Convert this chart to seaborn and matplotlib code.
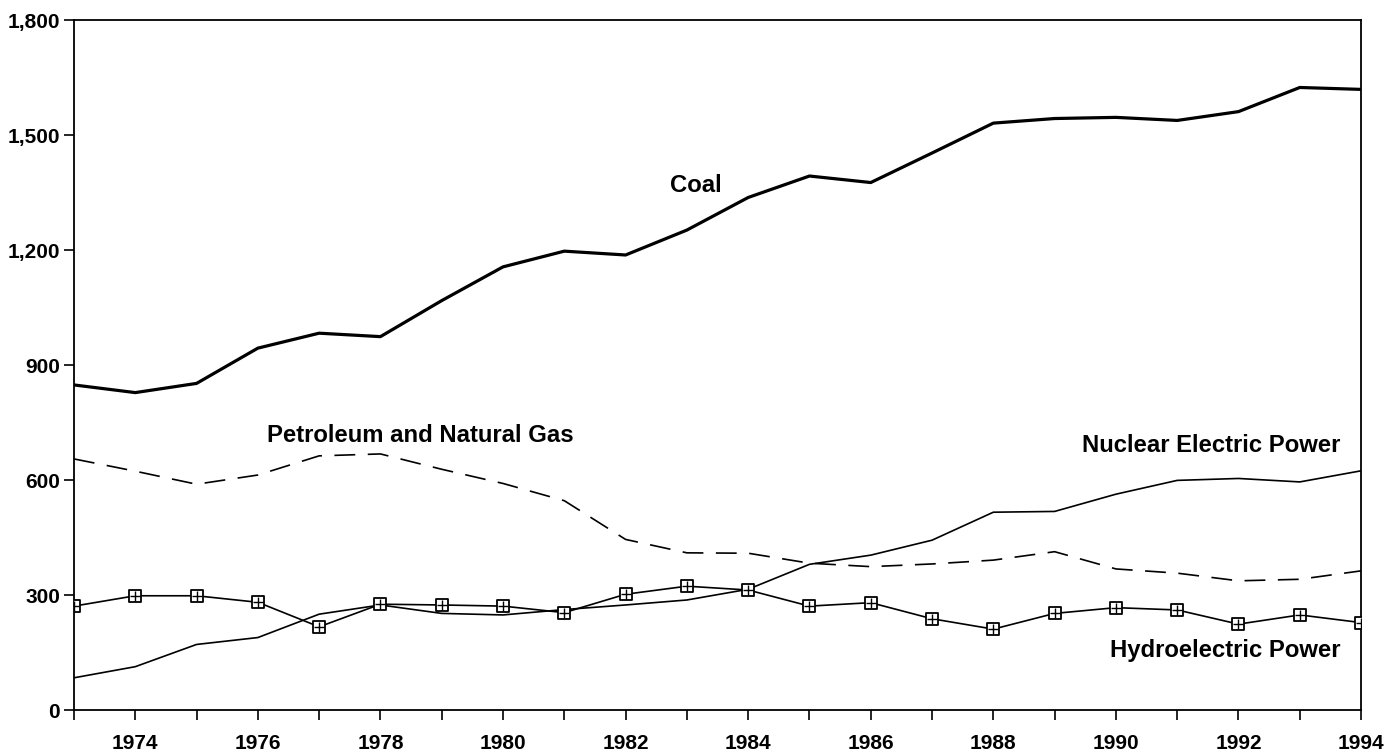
import matplotlib
matplotlib.use("Agg")
import matplotlib.pyplot as plt
import matplotlib.ticker as mticker
import numpy as np
import pandas as pd
import seaborn as sns

# Net electricity generation by energy source (billion kWh), 1973-1994
years = list(range(1973, 1995))
coal = [848, 828, 852, 944, 983, 974, 1068, 1156, 1197, 1187, 1252, 1337,
        1393, 1376, 1453, 1531, 1543, 1546, 1538, 1561, 1624, 1619]
petroleum_gas = [655, 623, 589, 613, 663, 668, 628, 591, 546, 445, 410, 409,
                 383, 374, 381, 391, 413, 368, 357, 337, 341, 363]
nuclear = [84, 113, 171, 189, 250, 274, 252, 248, 262, 274, 287, 315,
           380, 404, 443, 516, 518, 563, 599, 604, 595, 624]
hydro = [271, 298, 298, 281, 217, 276, 274, 271, 254, 302, 323, 313,
         271, 280, 238, 211, 252, 267, 261, 224, 248, 228]

series_names = ["Coal", "Petroleum and Natural Gas",
                "Nuclear Electric Power", "Hydroelectric Power"]
series_values = [coal, petroleum_gas, nuclear, hydro]

y_ticks = [0, 300, 600, 900, 1200, 1500, 1800]
x_label_years = list(range(1974, 1995, 2))

df = pd.DataFrame({"Year": years})
for name, vals in zip(series_names, series_values):
    df[name] = vals
long = df.melt(id_vars="Year", var_name="Source", value_name="kWh")

sns.set_theme(style="ticks")
plt.rcParams["font.family"] = ["Liberation Sans", "DejaVu Sans"]

fig = plt.figure(figsize=(13.88, 7.55), dpi=100)
ax = fig.add_axes([0.0533, 0.0596, 0.9273, 0.9139])

styles = {
    "Coal": dict(lw=2.3, ls="-"),
    "Petroleum and Natural Gas": dict(lw=1.2, ls=(0, (12.5, 7.5))),
    "Nuclear Electric Power": dict(lw=1.2, ls="-"),
    "Hydroelectric Power": dict(lw=1.2, ls="-"),
}
for name in series_names:
    sub = long[long["Source"] == name]
    st = styles[name]
    sns.lineplot(data=sub, x="Year", y="kWh", ax=ax, color="black",
                 linewidth=st["lw"], linestyle=st["ls"], legend=False)

hydro_df = long[long["Source"] == "Hydroelectric Power"]
sns.scatterplot(data=hydro_df, x="Year", y="kWh", ax=ax, marker="s", s=75,
                facecolor="white", edgecolor="black", linewidth=1.3,
                legend=False, zorder=3)
sns.scatterplot(data=hydro_df, x="Year", y="kWh", ax=ax, marker="+", s=50,
                color="black", linewidth=1.0, legend=False, zorder=4)

ax.set_xlim(1973, 1994)
ax.set_ylim(0, 1800)
ax.set_xticks(years)
ax.set_xticklabels([str(y) if y in x_label_years else "" for y in years])
ax.set_yticks(y_ticks)
ax.yaxis.set_major_formatter(mticker.FuncFormatter(lambda v, p: f"{int(v):,}"))
ax.set_xlabel("")
ax.set_ylabel("")

for side in ["left", "bottom", "top", "right"]:
    ax.spines[side].set_visible(True)
    ax.spines[side].set_color("black")
    ax.spines[side].set_linewidth(1.3)

ax.tick_params(axis="both", direction="out", length=7, width=1.2,
               color="black", labelsize=15, labelcolor="black")
ax.tick_params(axis="x", pad=10)
ax.tick_params(axis="y", pad=3)
for lbl in ax.get_xticklabels() + ax.get_yticklabels():
    lbl.set_fontweight("bold")

label_kw = dict(fontsize=17.2, fontweight="bold", color="black", va="center")
ax.text(1983.15, 1367, "Coal", ha="center", **label_kw)
ax.text(1976.15, 715, "Petroleum and Natural Gas", ha="left", **label_kw)
ax.text(1989.45, 689, "Nuclear Electric Power", ha="left", **label_kw)
ax.text(1989.9, 154, "Hydroelectric Power", ha="left", **label_kw)

fig.savefig("out.png", dpi=100, facecolor="white")
